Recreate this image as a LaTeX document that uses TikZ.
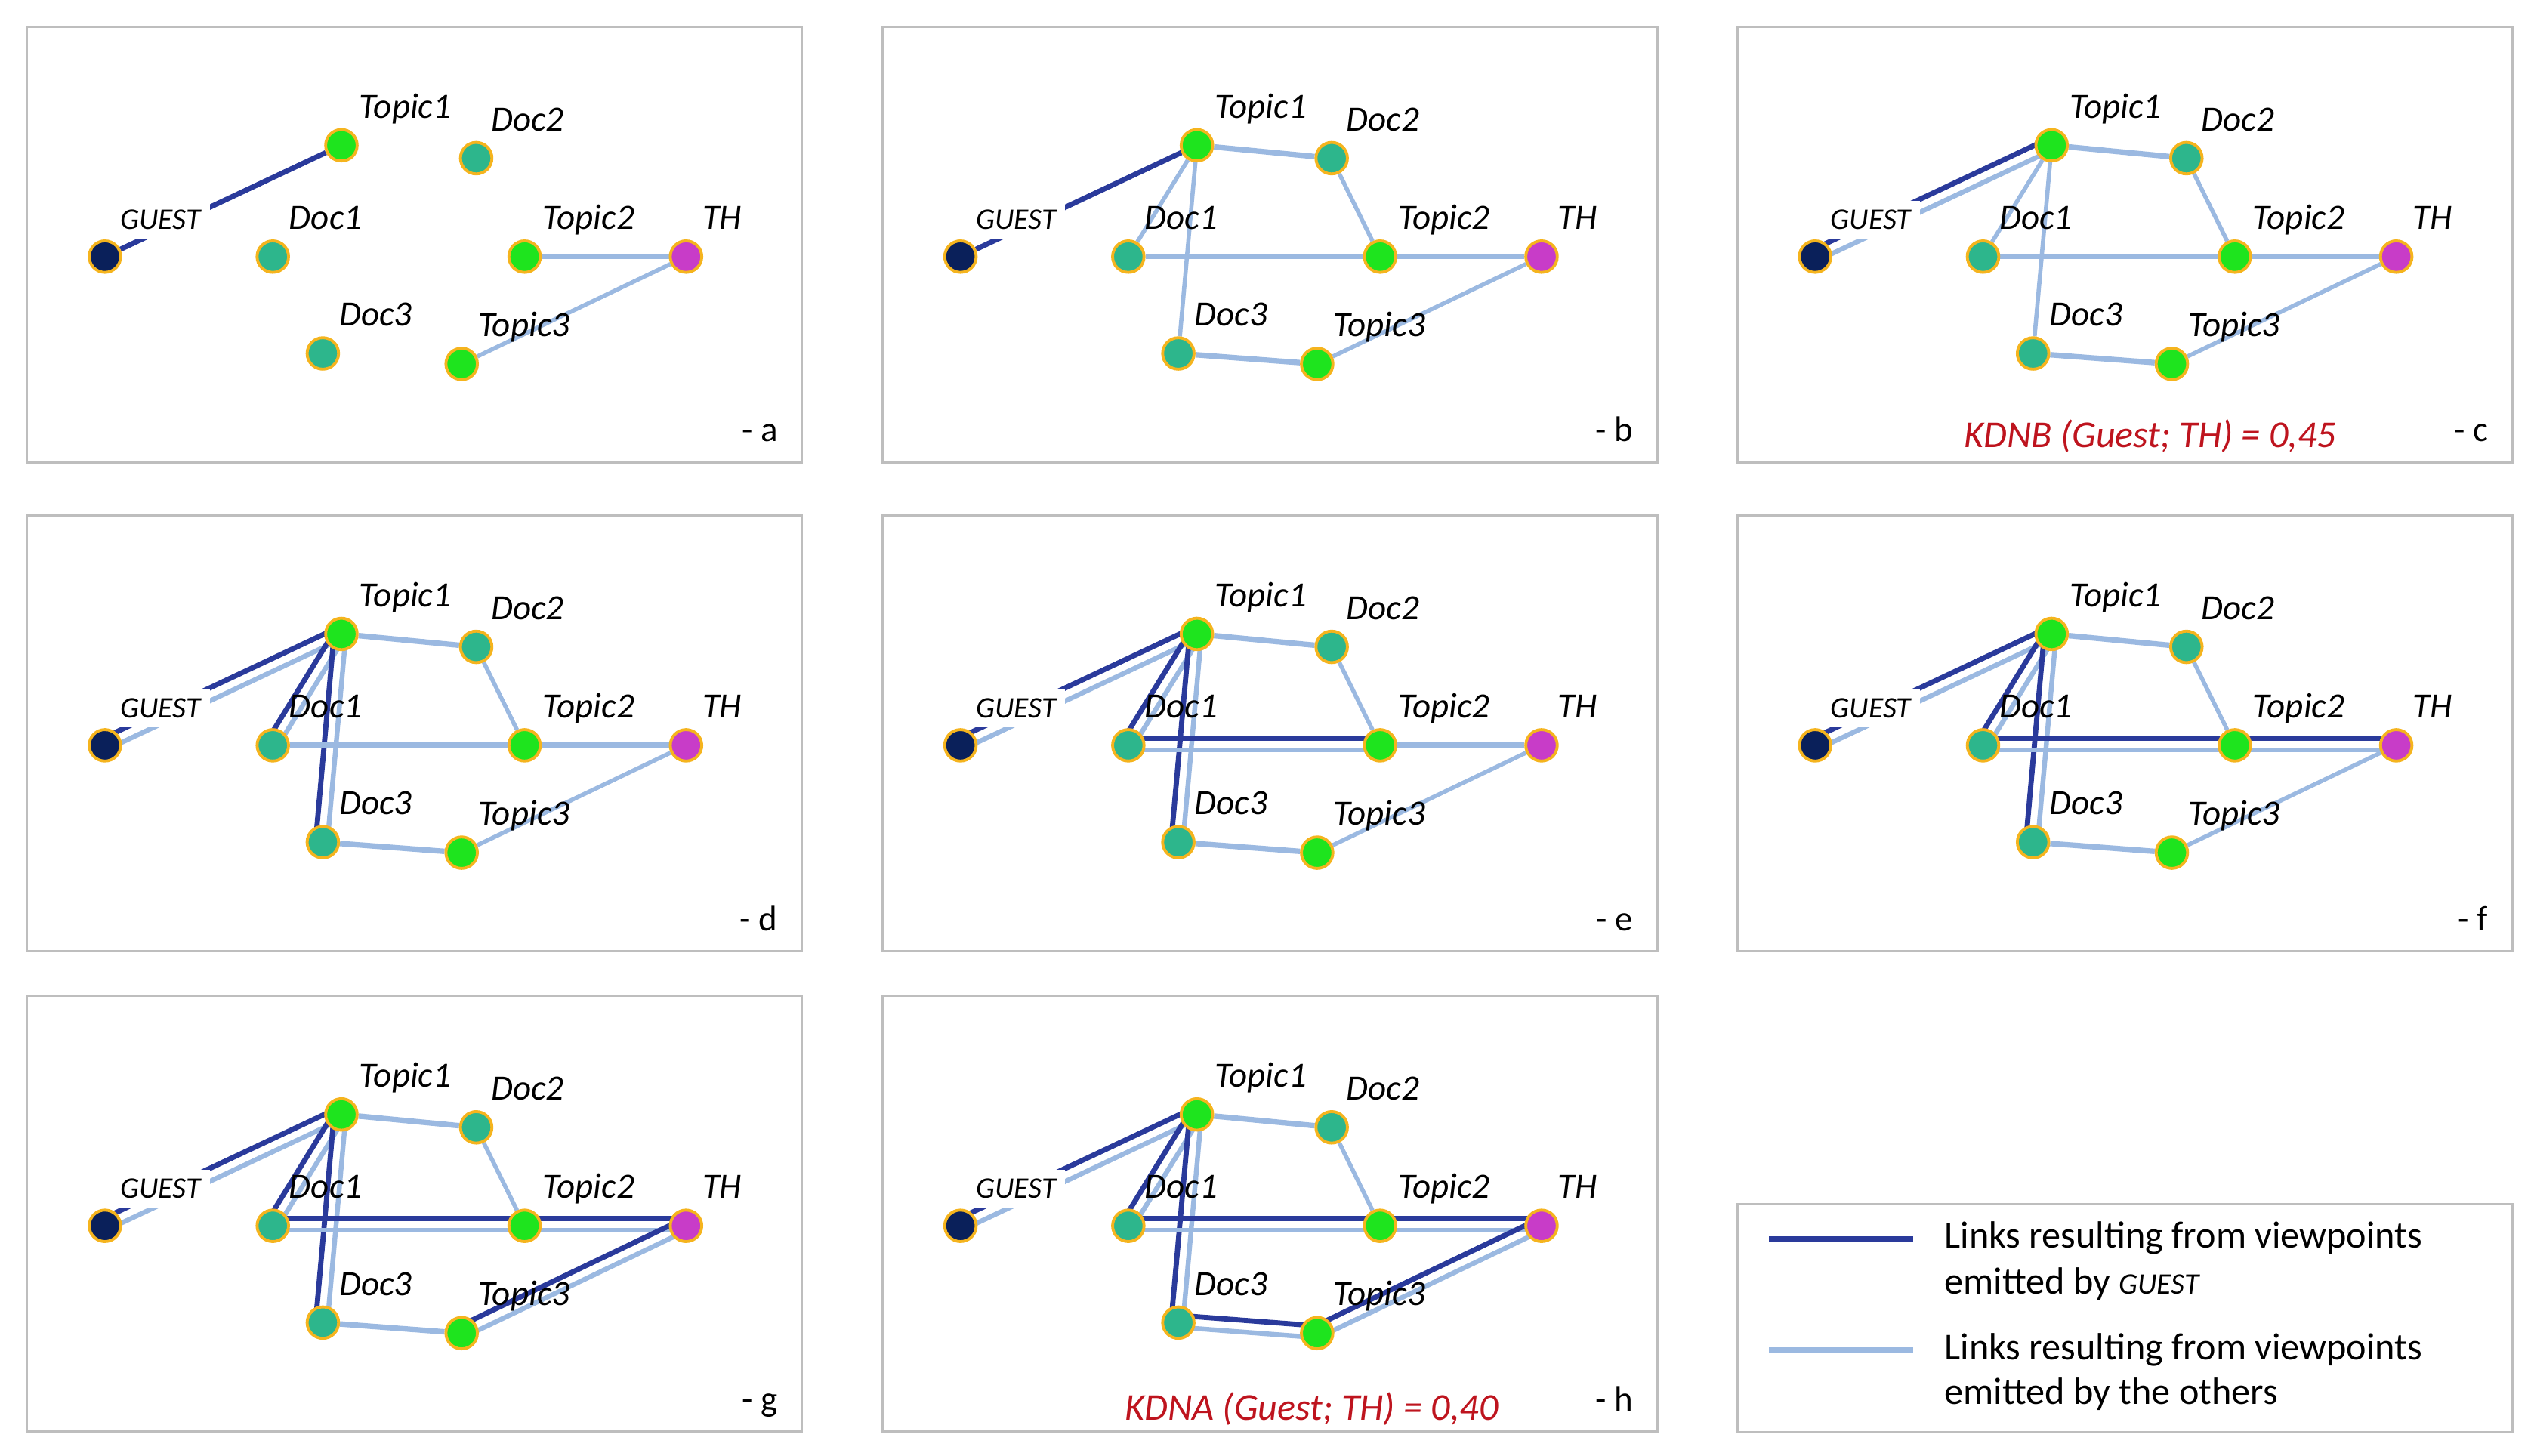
\documentclass[tikz,border=0pt]{standalone}
\usepackage{fontspec}
\setmainfont{Carlito}
\usepackage{tikz}
\usetikzlibrary{calc}
\usetikzlibrary{positioning}

\definecolor{guestblue}{RGB}{10,32,90}
\definecolor{docteal}{RGB}{45,182,140}
\definecolor{topicgreen}{RGB}{30,228,30}
\definecolor{thpink}{RGB}{200,60,200}
\definecolor{nodeborder}{RGB}{245,180,30}
\definecolor{darklink}{RGB}{42,58,155}
\definecolor{lightlink}{RGB}{155,185,225}
\definecolor{panelgray}{RGB}{190,190,190}
\definecolor{kdred}{RGB}{190,20,30}

\pgfdeclarelayer{background}
\pgfsetlayers{background,main}

\tikzset{
	vertex/.style={circle, draw=nodeborder, line width=1.8pt, minimum size=19.5pt, inner sep=0pt},
	guestnode/.style={vertex, fill=guestblue},
	docnode/.style={vertex, fill=docteal},
	topicnode/.style={vertex, fill=topicgreen},
	thnode/.style={vertex, fill=thpink},
	vlabel/.style={anchor=base west, inner sep=0pt, font=\fontsize{22}{24}\selectfont\itshape},
	guestlabel/.style={anchor=base west, fill=white, inner sep=5.5pt, font=\fontsize{18.5}{20}\selectfont\itshape},
	panel/.style={draw=panelgray, line width=1.5pt, minimum width=480pt, minimum height=270pt, anchor=north west, inner sep=0pt},
	tag/.style={anchor=base east, inner sep=0pt, font=\fontsize{22}{24}\selectfont},
	score/.style={anchor=base, inner sep=0pt, text=kdred, font=\fontsize{23.5}{26}\selectfont\itshape},
	legend text/.style={anchor=base west, inner sep=0pt, font=\fontsize{23.5}{26}\selectfont},
	guest/.style={draw=darklink, line width=3.2pt},
	others/.style={draw=lightlink, line width=3.4pt},
	others thin/.style={others, line width=2.6pt},
}

% dark link on the left of #1->#2, light link on the right
\newcommand{\viewpair}[2]{%
	\draw[guest] ($(#1)!4.5pt!90:(#2)$) -- ($(#2)!4.5pt!-90:(#1)$);
	\draw[others, line width=3pt] ($(#1)!2.8pt!-90:(#2)$) -- ($(#2)!2.8pt!90:(#1)$);
}

\begin{document}
\begin{tikzpicture}[x=1pt, y=-1pt]
	\useasboundingbox (0,0) rectangle (1568,902);
	
	% the seven graphs
	\foreach \p/\x/\y in {a/16/15.7, b/546/15.7, c/1075.5/15.7, d/16/318.5, e/546/318.5, f/1075.5/318.5, g/16/616.2, h/546/616.2} {
		\node[panel] (\p-box) at (\x,\y) {};
		
		\node[guestnode] (\p-guest) at ($(\p-box.north west)+(49,143.3)$) {};
		\node[docnode] (\p-doc1) at ($(\p-box.north west)+(153,143.3)$) {};
		\node[topicnode] (\p-topic1) at ($(\p-box.north west)+(195.5,74.3)$) {};
		\node[docnode] (\p-doc2) at ($(\p-box.north west)+(279,82.3)$) {};
		\node[topicnode] (\p-topic2) at ($(\p-box.north west)+(309,143.3)$) {};
		\node[thnode] (\p-th) at ($(\p-box.north west)+(409,143.3)$) {};
		\node[docnode] (\p-doc3) at ($(\p-box.north west)+(184,203.3)$) {};
		\node[topicnode] (\p-topic3) at ($(\p-box.north west)+(270,209.8)$) {};
		
		\node[guestlabel] (\p-lguest) at ($(\p-guest)+(4,-17)$) {GUEST};
		\node[vlabel] (\p-ldoc1) at ($(\p-doc1)+(10,-17)$) {Doc1};
		\node[vlabel] (\p-ltopic1) at ($(\p-topic1)+(11,-17)$) {Topic1};
		\node[vlabel] (\p-ldoc2) at ($(\p-doc2)+(9,-17)$) {Doc2};
		\node[vlabel] (\p-ltopic2) at ($(\p-topic2)+(11,-17)$) {Topic2};
		\node[vlabel] (\p-lth) at ($(\p-th)+(10,-17)$) {TH};
		\node[vlabel] (\p-ldoc3) at ($(\p-doc3)+(10,-17)$) {Doc3};
		\node[vlabel] (\p-ltopic3) at ($(\p-topic3)+(10,-17)$) {Topic3};
		
		\node[tag] (\p-tag) at ($(\p-box.south east)+(-15.5,-13.5)$) {- \p};
	}
	
	\node[score] (c-kdnb) at ($(c-box.south west)+(256.5,-10)$) {KDNB (Guest; TH) = 0,45};
	\node[score] (h-kdna) at ($(h-box.south west)+(266.5,-8)$) {KDNA (Guest; TH) = 0,40};
	
	% legend
	\node[panel, minimum height=141pt] (legend) at (1075.5,745.5) {};
	\coordinate (dark-a) at ($(legend.north west)+(20.5,22)$);
	\coordinate (dark-b) at ($(dark-a)+(89,0)$);
	\coordinate (light-a) at ($(legend.north west)+(20.5,91)$);
	\coordinate (light-b) at ($(light-a)+(89,0)$);
	\draw[guest] (dark-a) -- (dark-b);
	\draw[others, line width=3.2pt] (light-a) -- (light-b);
	\node[legend text] (leg1) at ($(legend.north west)+(129,27.5)$) {Links resulting from viewpoints};
	\node[legend text] (leg2) at ($(leg1.base west)+(0,29)$) {emitted by {\fontsize{18.5}{20}\selectfont\itshape GUEST}};
	\node[legend text] (leg3) at ($(legend.north west)+(129,96.8)$) {Links resulting from viewpoints};
	\node[legend text] (leg4) at ($(leg3.base west)+(0,28)$) {emitted by the others};
	
	\begin{pgfonlayer}{background}
		\foreach \p in {a,b} \draw[guest] (\p-guest) -- (\p-topic1);
		\foreach \p in {c,...,h} {\viewpair{\p-guest}{\p-topic1}}
		\foreach \p in {b,...,h} {
			\draw[others] (\p-topic1) -- (\p-doc2);
			\draw[others thin] (\p-doc2) -- (\p-topic2);
		}
		\foreach \p in {b,c} {
			\draw[others thin] (\p-topic1) -- (\p-doc1);
			\draw[others thin] (\p-topic1) -- (\p-doc3);
		}
		\foreach \p in {d,...,h} {
			\viewpair{\p-doc1}{\p-topic1}
			\viewpair{\p-doc3}{\p-topic1}
		}
		\foreach \p in {b,c,d} \draw[others] (\p-doc1) -- (\p-topic2);
		\foreach \p in {e,...,h} {\viewpair{\p-doc1}{\p-topic2}}
		\foreach \p in {a,...,e} \draw[others] (\p-topic2) -- (\p-th);
		\foreach \p in {f,g,h} {\viewpair{\p-topic2}{\p-th}}
		\foreach \p in {a,...,f} \draw[others thin] (\p-topic3) -- (\p-th);
		\foreach \p in {g,h} {\viewpair{\p-topic3}{\p-th}}
		\foreach \p in {b,...,g} \draw[others] (\p-doc3) -- (\p-topic3);
		\viewpair{h-doc3}{h-topic3}
	\end{pgfonlayer}
\end{tikzpicture}
\end{document}
